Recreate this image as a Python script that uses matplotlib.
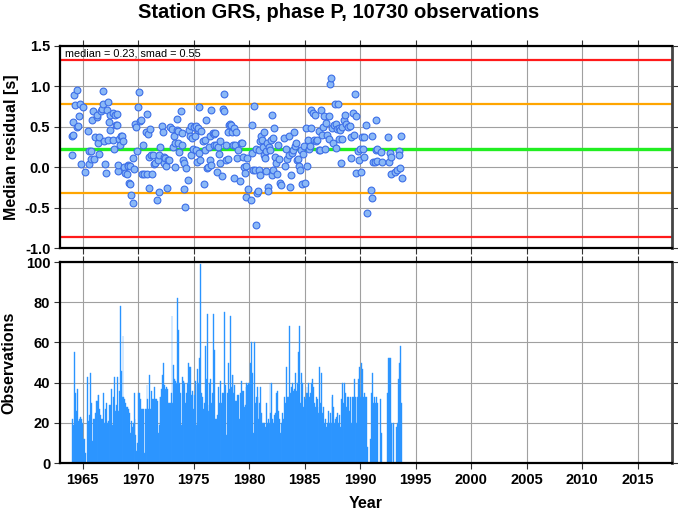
import matplotlib
matplotlib.use("Agg")
import matplotlib.pyplot as plt
import numpy as np

plt.rcParams['font.family'] = ['Liberation Sans', 'DejaVu Sans']
plt.rcParams['axes.unicode_minus'] = False

# ---------------- data ----------------
title = "Station GRS, phase P, 10730 observations"
median = 0.23
smad = 0.55

count_years = list(range(1964, 1994))
monthly_counts = [
    22, 19, 15, 55, 35, 26, 37, 21, 22, 23, 22, 20,   # 1964
    12, 12, 5, 0, 0, 43, 21, 24, 45, 30, 11, 22,      # 1965
    22, 25, 31, 31, 34, 34, 27, 24, 22, 22, 35, 20,   # 1966
    27, 30, 20, 21, 29, 29, 29, 37, 19, 33, 43, 26,   # 1967
    29, 43, 26, 36, 78, 46, 33, 63, 33, 32, 30, 28,   # 1968
    28, 27, 25, 15, 21, 18, 20, 35, 22, 14, 6, 10,    # 1969
    35, 35, 32, 27, 27, 27, 5, 27, 27, 39, 32, 27,    # 1970
    44, 27, 36, 32, 32, 38, 32, 32, 31, 15, 19, 33,   # 1971
    33, 37, 44, 50, 39, 37, 38, 37, 30, 30, 30, 35,   # 1972
    73, 30, 49, 42, 41, 40, 82, 66, 40, 35, 19, 43,   # 1973
    41, 34, 40, 30, 35, 40, 50, 48, 48, 34, 36, 27,   # 1974
    34, 41, 39, 19, 47, 40, 52, 99, 35, 33, 27, 30,   # 1975
    58, 42, 74, 26, 29, 40, 42, 30, 35, 74, 56, 22,   # 1976
    22, 24, 38, 30, 41, 30, 30, 35, 35, 75, 39, 14,   # 1977
    35, 50, 37, 73, 38, 44, 44, 35, 39, 31, 31, 34,   # 1978
    34, 22, 35, 41, 36, 36, 28, 29, 38, 40, 39, 40,   # 1979
    40, 50, 60, 45, 15, 60, 30, 33, 38, 33, 22, 30,   # 1980
    38, 25, 20, 20, 20, 18, 30, 20, 22, 20, 40, 25,   # 1981
    40, 22, 20, 24, 25, 35, 36, 26, 22, 15, 20, 20,   # 1982
    25, 22, 33, 30, 48, 33, 33, 68, 35, 38, 40, 36,   # 1983
    37, 36, 45, 36, 40, 55, 68, 30, 45, 40, 28, 33,   # 1984
    32, 35, 38, 35, 40, 33, 35, 40, 42, 38, 30, 28,   # 1985
    33, 32, 25, 28, 48, 30, 45, 25, 28, 20, 22, 18,   # 1986
    20, 26, 20, 25, 20, 33, 34, 28, 20, 22, 23, 25,   # 1987
    20, 24, 18, 32, 40, 30, 22, 40, 35, 28, 33, 33,   # 1988
    26, 33, 20, 33, 33, 42, 33, 33, 20, 33, 42, 48,   # 1989
    33, 50, 47, 33, 35, 33, 33, 8, 0, 0, 0, 12,       # 1990
    35, 45, 30, 33, 30, 33, 30, 0, 0, 32, 0, 15,      # 1991
    0, 0, 0, 0, 0, 35, 52, 52, 52, 20, 0, 20,         # 1992
    20, 0, 0, 18, 20, 42, 50, 58, 30, 0, 0, 0,        # 1993
]

res_year = [
    1964.0, 1964.05, 1964.1, 1964.15, 1964.25, 1964.3, 1964.45, 1964.5, 1964.6, 1964.65, 1964.75, 1964.85,
    1965.05, 1965.2, 1965.45, 1965.55, 1965.6, 1965.7, 1965.75, 1965.85, 1965.95,
    1966.05, 1966.1, 1966.25, 1966.3, 1966.35, 1966.45, 1966.5, 1966.6, 1966.7, 1966.8, 1966.82, 1966.95, 1966.97,
    1967.1, 1967.15, 1967.3, 1967.32, 1967.4, 1967.5, 1967.45, 1967.7, 1967.72, 1967.85, 1967.95, 1967.97,
    1968.05, 1968.1, 1968.15, 1968.2, 1968.25, 1968.35, 1968.45, 1968.5, 1968.6, 1968.7, 1968.85, 1968.95,
    1969.05, 1969.1, 1969.2, 1969.25, 1969.3, 1969.35, 1969.5, 1969.55, 1969.6, 1969.7, 1969.8, 1969.9, 1969.95,
    1970.1, 1970.15, 1970.25, 1970.35, 1970.4, 1970.5, 1970.7, 1970.75, 1970.8, 1970.85, 1970.95,
    1971.05, 1971.0, 1971.15, 1971.2, 1971.3, 1971.45, 1971.55, 1971.65, 1971.75, 1971.85, 1971.9,
    1972.0, 1972.1, 1972.2, 1972.3, 1972.35, 1972.4, 1972.5, 1972.6, 1972.7, 1972.8, 1972.9,
    1973.05, 1973.1, 1973.2, 1973.3, 1973.35, 1973.45, 1973.5, 1973.55, 1973.6, 1973.7, 1973.85, 1973.9, 1973.95,
    1974.0, 1974.1, 1974.15, 1974.2, 1974.3, 1974.5, 1974.6, 1974.65, 1974.75, 1974.8, 1974.85, 1974.95,
    1975.05, 1975.1, 1975.2, 1975.25, 1975.3, 1975.35, 1975.4, 1975.45, 1975.5, 1975.6, 1975.7, 1975.8, 1975.9,
    1976.0, 1976.05, 1976.1, 1976.2, 1976.3, 1976.4, 1976.45, 1976.5, 1976.55, 1976.6, 1976.7, 1976.8, 1976.85, 1976.95,
    1977.0, 1977.1, 1977.2, 1977.25, 1977.35, 1977.4, 1977.55, 1977.6, 1977.7, 1977.75, 1977.9, 1977.95,
    1978.05, 1978.1, 1978.2, 1978.3, 1978.4, 1978.45, 1978.5, 1978.6, 1978.65, 1978.75, 1978.8, 1978.9,
    1979.0, 1979.2, 1979.3, 1979.35, 1979.4, 1979.5, 1979.6, 1979.7, 1979.75, 1979.8, 1979.9,
    1980.2, 1980.22, 1980.25, 1980.3, 1980.45, 1980.5, 1980.6, 1980.65, 1980.7, 1980.75, 1980.85, 1980.9, 1980.95,
    1981.0, 1981.1, 1981.15, 1981.25, 1981.3, 1981.35, 1981.45, 1981.5, 1981.55, 1981.6, 1981.7, 1981.72, 1981.75, 1981.85,
    1982.0, 1982.05, 1982.07, 1982.1, 1982.15, 1982.25, 1982.3, 1982.4, 1982.5, 1982.6, 1982.7, 1982.8, 1982.9,
    1983.1, 1983.25, 1983.35, 1983.45, 1983.55, 1983.6, 1983.7, 1983.8, 1983.9, 1983.95,
    1984.05, 1984.1, 1984.2, 1984.3, 1984.4, 1984.5, 1984.55, 1984.65, 1984.75, 1984.85, 1984.95,
    1985.05, 1985.1, 1985.25, 1985.3, 1985.4, 1985.5, 1985.55, 1985.6, 1985.75, 1985.8, 1985.95,
    1986.0, 1986.1, 1986.25, 1986.3, 1986.4, 1986.5, 1986.6, 1986.65, 1986.75, 1986.85, 1986.95,
    1987.05, 1987.15, 1987.2, 1987.3, 1987.4, 1987.5, 1987.55, 1987.6, 1987.7, 1987.8, 1987.85, 1987.95,
    1988.0, 1988.05, 1988.1, 1988.2, 1988.3, 1988.35, 1988.37, 1988.5, 1988.6, 1988.75, 1988.9,
    1989.05, 1989.15, 1989.2, 1989.35, 1989.45, 1989.5, 1989.6, 1989.65, 1989.8, 1989.85, 1989.95,
    1990.1, 1990.15, 1990.25, 1990.3, 1990.35, 1990.5, 1990.6,
    1991.0, 1991.05, 1991.1, 1991.15, 1991.3, 1991.4, 1991.45, 1991.5, 1991.55, 1991.9,
    1992.0, 1992.5, 1992.6, 1992.65, 1992.75, 1992.8,
    1993.1, 1993.3, 1993.47, 1993.5, 1993.55, 1993.65, 1993.76,
]
res_value = [
    0.15, 0.38, 0.40, 0.56, 0.89, 0.77, 0.96, 0.50, 0.51, 0.63, 0.78, 0.04,
    0.75, -0.06, 0.45, 0.20, 0.04, 0.20, 0.10, 0.58, 0.70,
    0.10, 0.37, 0.62, 0.65, 0.30, 0.37, 0.16, 0.70, 0.72, 0.78, 0.94, 0.33, 0.04,
    -0.07, 0.71, 0.81, 0.34, 0.56, 0.46, 0.65, 0.67, 0.34, 0.23, 0.65, 0.52,
    0.52, 0.66, -0.05, 0.03, 0.35, 0.27, 0.38, 0.38, 0.33, 0.00, -0.07, -0.08,
    0.03, 0.01, -0.20, 0.01, -0.21, -0.35, 0.12, -0.44, -0.02, 0.54, 0.50, 0.20, 0.75,
    0.93, 0.57, 0.58, -0.09, 0.28, -0.09, 0.43, -0.09, 0.66, 0.41, 0.13,
    0.47, -0.26, 0.15, -0.09, 0.15, 0.04, 0.05, -0.40, 0.09, -0.31, 0.15,
    0.25, 0.51, 0.44, 0.13, 0.05, 0.11, 0.01, -0.26, 0.09, 0.09, 0.50,
    0.47, 0.25, 0.38, 0.00, 0.30, 0.46, 0.60, 0.30, 0.45, 0.19, 0.69, 0.42, 0.28,
    0.09, -0.27, 0.05, -0.49, -0.01, -0.16, 0.46, 0.38, 0.15, 0.51, 0.36, 0.22,
    0.50, 0.38, 0.51, 0.21, 0.07, 0.46, 0.48, 0.75, 0.18, 0.09, 0.45, 0.32, -0.21,
    0.34, 0.21, 0.59, -0.01, 0.00, 0.25, 0.38, 0.09, 0.03, 0.71, 0.42, 0.41, 0.28, 0.42,
    0.27, -0.06, 0.25, 0.16, 0.32, 0.05, -0.11, 0.72, 0.90, 0.70, 0.28, 0.09,
    0.10, 0.43, 0.52, 0.54, 0.52, 0.43, 0.27, -0.13, 0.48, 0.27, 0.44, 0.12,
    0.21, -0.17, 0.30, 0.30, 0.13, 0.00, -0.07, -0.37, 0.01, 0.11, -0.27,
    -0.41, 0.52, 0.18, -0.03, 0.76, -0.03, -0.71, 0.23, -0.32, -0.30, -0.03, 0.21, -0.10,
    0.32, 0.39, 0.34, 0.25, 0.15, 0.43, 0.12, 0.20, -0.05, 0.30, -0.24, -0.30, 0.25, 0.21,
    0.34, 0.65, -0.10, 0.36, -0.04, 0.48, 0.13, 0.05, -0.08, 0.28, 0.10, -0.20, -0.22,
    0.36, 0.01, 0.23, 0.10, 0.38, 0.15, -0.25, -0.10, 0.17, 0.21,
    0.44, 0.26, 0.30, 0.09, 0.10, 0.02, -0.03, 0.21, -0.21, 0.16, 0.26,
    -0.20, 0.48, 0.01, 0.34, 0.22, 0.26, 0.48, 0.71, 0.67, 0.34, 0.65,
    0.32, 0.34, 0.21, 0.45, 0.21, 0.71, 0.40, 0.50, 0.63, 0.23, 0.55,
    0.40, 0.63, 0.35, 1.03, 1.11, 0.48, 0.30, 0.52, 0.78, 0.53, 0.24, 0.47,
    0.78, 0.35, 0.48, 0.46, 0.05, 0.50, 0.35, 0.58, 0.65, 0.54, 0.50,
    0.51, 0.37, 0.11, 0.67, 0.40, 0.91, -0.07, 0.63, 0.20, 0.09, 0.22,
    -0.06, 0.37, 0.23, 0.13, 0.37, 0.52, -0.57,
    -0.28, 0.39, -0.38, 0.07, 0.07, 0.58, 0.21, 0.08, 0.23, 0.19,
    0.06, 0.37, 0.07, 0.18, -0.09, 0.13,
    -0.06, -0.03, 0.20, 0.15, -0.01, 0.39, -0.13,
]

# ---------------- figure ----------------
fig = plt.figure(figsize=(6.78, 5.11), dpi=100)
ax1 = fig.add_axes([60/678, 1 - 248/511, 612/678, 202/511])
ax2 = fig.add_axes([60/678, 1 - 463/511, 612/678, 201/511])

xlim = (1962.95, 2018.1)
grid_kw = dict(color='#a0a0a0', lw=0.8)

for ax in (ax1, ax2):
    ax.set_xlim(*xlim)
    ax.set_xticks(np.arange(1965, 2016, 5))
    ax.grid(True, **grid_kw)
    ax.set_axisbelow(True)
    ax.tick_params(direction='out', length=4, width=0.8, color='#333333',
                   top=True, right=True, labelsize=10.5, pad=3)
    for s in ('left', 'bottom', 'top'):
        ax.spines[s].set_linewidth(1.6)
        ax.spines[s].set_color('black')
    ax.spines['right'].set_linewidth(2.0)
    ax.spines['right'].set_color('#444444')

# top panel
ax1.set_ylim(-1.0, 1.5)
yt1 = np.arange(-1.0, 1.51, 0.5)
ax1.set_yticks(yt1)
ax1.set_yticklabels([f"{v:.1f}" for v in yt1], fontweight='bold')
ax1.tick_params(labelbottom=False)
ax1.axhline(median + 2 * smad, color='#ff1a1a', lw=1.6, zorder=2)
ax1.axhline(median - 2 * smad, color='#ff1a1a', lw=1.6, zorder=2)
ax1.axhline(median + smad, color='#ffa500', lw=1.6, zorder=2)
ax1.axhline(median - smad, color='#ffa500', lw=1.6, zorder=2)
ax1.axhline(median, color='#22ee22', lw=2.4, zorder=2)
ax1.scatter(res_year, res_value, s=24, facecolor='#8ab8f6', edgecolor='#3c6ee8',
            linewidths=0.8, zorder=3)
ax1.text(0.008, 0.988, f"median = {median:.2f}, smad = {smad:.2f}", transform=ax1.transAxes,
         ha='left', va='top', fontsize=7.8)
ax1.set_ylabel("Median residual [s]", fontsize=11.5, fontweight='bold', labelpad=4)

# bottom panel
months = np.arange(12) / 12.0
bar_x = [y + m for y in count_years for m in months]
ax2.bar(bar_x, monthly_counts, width=1/12, align='edge', color='#1e90ff',
        edgecolor='#3a9cff', linewidth=0.3, zorder=2)
ax2.set_ylim(0, 100)
ax2.set_yticks(np.arange(0, 101, 20))
ax2.set_yticklabels([str(v) for v in range(0, 101, 20)], fontweight='bold')
ax2.set_xticklabels([str(v) for v in range(1965, 2016, 5)], fontweight='bold')
ax2.set_ylabel("Observations", fontsize=11.5, fontweight='bold', labelpad=7)
ax2.set_xlabel("Year", fontsize=11.5, fontweight='bold', labelpad=6.5)

fig.text(0.5, 1 - 12/511, title, ha='center', va='center', fontsize=14.5, fontweight='bold')

fig.savefig("out.png", dpi=100)
